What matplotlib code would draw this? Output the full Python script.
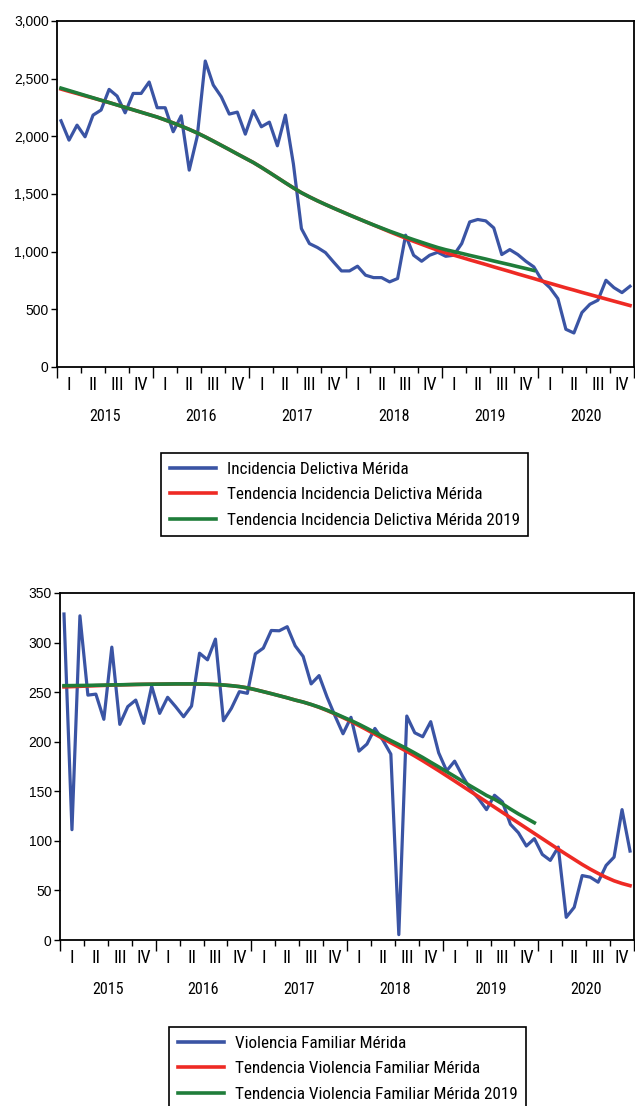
import matplotlib
matplotlib.use("Agg")
import matplotlib.pyplot as plt
from matplotlib import font_manager
from matplotlib.lines import Line2D


def pick_condensed():
    fl = font_manager.fontManager.ttflist
    names = {f.name for f in fl}
    for n in ['Liberation Sans Narrow', 'Arial Narrow', 'Roboto Condensed',
              'Open Sans Condensed', 'Noto Sans Condensed', 'Noto Sans SemiCondensed',
              'DejaVu Sans Condensed']:
        if n in names:
            return n, 'normal'
    for fam in ['Liberation Sans', 'Roboto', 'Noto Sans', 'Open Sans', 'DejaVu Sans']:
        for f in fl:
            if (f.name == fam and str(f.stretch) in ('condensed', 'semi-condensed')
                    and str(f.weight) in ('400', 'normal', 'regular', 'book')
                    and f.style == 'normal'):
                return fam, str(f.stretch)
    return None, None


COND, STRETCH = pick_condensed()
plt.rcParams['font.family'] = ['Liberation Sans', 'DejaVu Sans']
if COND:
    NFAM = [COND, 'Liberation Sans', 'DejaVu Sans']
    QFS, YRFS, LGFS = 13.0, 11.5, 12.3
else:
    NFAM = ['Liberation Sans', 'DejaVu Sans']
    STRETCH = 'normal'
    QFS, YRFS, LGFS = 12.0, 10.5, 11.0
TICK_FS = 10

# ---------------- data (monthly, Jan 2015 - Dec 2020) ----------------
years = ['2015', '2016', '2017', '2018', '2019', '2020']
quarters = ['I', 'II', 'III', 'IV']

incidencia = [2135, 1967, 2097, 1996, 2184, 2228, 2407, 2349, 2204, 2372, 2372, 2471,
              2248, 2248, 2040, 2178, 1707, 2000, 2653, 2445, 2343, 2193, 2210, 2019,
              2222, 2083, 2123, 1918, 2184, 1760, 1200, 1070, 1036, 992, 911, 833,
              833, 874, 796, 775, 775, 738, 767, 1143, 969, 917, 969, 995,
              960, 969, 1070, 1258, 1279, 1267, 1206, 975, 1018, 975, 917, 868,
              752, 688, 593, 327, 295, 472, 544, 579, 752, 688, 645, 700]

tend_incidencia = [2410, 2390, 2371, 2351, 2332, 2312, 2293, 2272, 2251, 2230, 2209, 2188,
                   2167, 2142, 2116, 2089, 2060, 2029, 1995, 1959, 1922, 1885, 1847, 1810,
                   1773, 1731, 1687, 1642, 1597, 1553, 1511, 1475, 1441, 1409, 1378, 1348,
                   1318, 1289, 1260, 1231, 1202, 1173, 1145, 1117, 1090, 1064, 1038, 1013,
                   990, 970, 950, 929, 909, 889, 868, 848, 828, 807, 787, 767,
                   746, 726, 706, 686, 667, 647, 628, 609, 590, 571, 552, 533]

tend_incidencia_2019 = [2418, 2397, 2376, 2355, 2334, 2313, 2293, 2272, 2251, 2230, 2209, 2188,
                        2167, 2142, 2116, 2089, 2060, 2029, 1995, 1959, 1922, 1885, 1847, 1810,
                        1773, 1731, 1687, 1642, 1597, 1553, 1511, 1475, 1441, 1409, 1378, 1348,
                        1318, 1289, 1260, 1232, 1205, 1178, 1153, 1128, 1104, 1081, 1058, 1036,
                        1017, 1001, 985, 968, 952, 936, 919, 903, 887, 870, 854, 837]

violencia = [328.8, 111.3, 327.0, 247.0, 248.0, 222.6, 295.4, 217.5, 235.4, 242.0, 218.5, 256.0,
             228.6, 244.8, 235.4, 225.2, 236.0, 289.3, 282.6, 303.5, 221.2, 233.7, 250.5, 248.8,
             288.6, 294.4, 312.2, 311.9, 316.0, 296.7, 286.0, 258.3, 266.7, 245.0, 226.0, 208.0,
             224.6, 190.5, 197.6, 213.4, 201.6, 187.5, 5.4, 225.9, 209.0, 205.0, 220.2, 188.8,
             170.6, 180.4, 165.2, 151.7, 142.6, 131.5, 146.0, 139.3, 116.7, 108.2, 94.8, 102.2,
             86.3, 80.3, 93.7, 22.9, 33.0, 65.0, 63.4, 58.3, 75.2, 83.6, 131.5, 89.7]

tend_violencia = [255.3, 255.6, 255.9, 256.2, 256.5, 256.8, 257.1, 257.3, 257.5, 257.7, 257.9, 258.0,
                  258.1, 258.2, 258.3, 258.3, 258.3, 258.2, 258.0, 257.7, 257.2, 256.5, 255.6, 254.3,
                  252.5, 250.5, 248.5, 246.4, 244.3, 242.0, 240.0, 237.5, 234.7, 231.5, 228.0, 224.3,
                  220.4, 216.3, 212.0, 207.6, 203.2, 198.9, 194.6, 190.2, 185.6, 180.8, 175.8, 170.8,
                  165.6, 160.4, 155.1, 149.8, 144.6, 139.3, 134.0, 128.7, 123.4, 118.1, 112.8, 107.5,
                  102.2, 96.9, 91.6, 86.4, 81.3, 76.2, 71.5, 67.2, 63.2, 59.7, 57.0, 54.8]

tend_violencia_2019 = [256.5, 256.6, 256.7, 256.8, 257.0, 257.1, 257.3, 257.4, 257.6, 257.8, 257.9, 258.0,
                       258.1, 258.2, 258.3, 258.3, 258.3, 258.2, 258.0, 257.7, 257.2, 256.5, 255.6, 254.3,
                       252.5, 250.5, 248.5, 246.4, 244.3, 242.0, 240.0, 237.6, 234.9, 231.8, 228.5, 224.9,
                       221.4, 217.6, 213.5, 209.3, 205.2, 201.1, 197.1, 193.0, 188.6, 184.1, 179.3, 174.6,
                       169.8, 165.0, 160.1, 155.3, 150.6, 145.8, 142.0, 137.3, 132.1, 127.2, 122.8, 118.3]

labels_top = ['Incidencia Delictiva Mérida',
              'Tendencia Incidencia Delictiva Mérida',
              'Tendencia Incidencia Delictiva Mérida 2019']
labels_bot = ['Violencia Familiar Mérida',
              'Tendencia Violencia Familiar Mérida',
              'Tendencia Violencia Familiar Mérida 2019']

BLUE = '#3a54a4'
RED = '#ee2a24'
GREEN = '#1f7d3a'

W, H = 635, 1106
fig = plt.figure(figsize=(W / 100, H / 100), dpi=100)


def px_axes(left, right, top, bottom):
    return fig.add_axes([left / W, 1 - bottom / H, (right - left) / W, (bottom - top) / H])


def draw_panel(ax, series, trend, trend19, yticks, ylabels, ax_h_px):
    n = len(series)
    ax.plot(range(n), series, color=BLUE, lw=2.3, solid_joinstyle='round', zorder=3)
    ax.plot(range(len(trend)), trend, color=RED, lw=2.6, zorder=4)
    ax.plot(range(len(trend19)), trend19, color=GREEN, lw=2.6, zorder=5)
    ax.set_xlim(-0.5, n - 0.5)
    ax.set_ylim(yticks[0], yticks[-1])
    ax.set_yticks(yticks)
    ax.set_yticklabels(ylabels, fontsize=TICK_FS)
    ax.tick_params(axis='y', direction='out', length=4, width=1.0, pad=2)
    nq = n // 3
    ax.set_xticks([3 * q - 0.5 for q in range(0, nq + 1) if q % 4 == 0])
    ax.set_xticks([3 * q - 0.5 for q in range(0, nq + 1) if q % 4 != 0], minor=True)
    ax.set_xticklabels([])
    ax.tick_params(axis='x', which='major', direction='out', length=8, width=1.0)
    ax.tick_params(axis='x', which='minor', direction='out', length=4, width=1.0)
    for s in ax.spines.values():
        s.set_linewidth(1.3)
        s.set_color('black')
    tr = ax.get_xaxis_transform()
    for q in range(nq):
        ax.text(3 * q + 1, -18 / ax_h_px, quarters[q % 4], transform=tr,
                ha='center', va='center', fontsize=QFS, family=NFAM, stretch=STRETCH)
    for y, name in enumerate(years):
        ax.text(12 * y + 5.5, -50 / ax_h_px, name, transform=tr,
                ha='center', va='center', fontsize=YRFS, family=NFAM, stretch=STRETCH)


def legend(labels, x_px, y_px):
    handles = [Line2D([], [], color=c, lw=2.6) for c in (BLUE, RED, GREEN)]
    leg = fig.legend(handles, labels, loc='upper left',
                     bbox_to_anchor=(x_px / W, 1 - y_px / H), bbox_transform=fig.transFigure,
                     frameon=True, fancybox=False, framealpha=1, edgecolor='black',
                     prop={'family': NFAM, 'size': LGFS, 'stretch': STRETCH},
                     handlelength=2.7, handletextpad=0.65,
                     labelspacing=0.62, borderpad=0.5, borderaxespad=0)
    leg.get_frame().set_linewidth(1.2)


ax1 = px_axes(57, 634, 21, 367)
draw_panel(ax1, incidencia, tend_incidencia, tend_incidencia_2019,
           [0, 500, 1000, 1500, 2000, 2500, 3000],
           ['0', '500', '1,000', '1,500', '2,000', '2,500', '3,000'], 346)
legend(labels_top, 161, 453)

ax2 = px_axes(60, 634, 593, 940)
draw_panel(ax2, violencia, tend_violencia, tend_violencia_2019,
           [0, 50, 100, 150, 200, 250, 300, 350],
           ['0', '50', '100', '150', '200', '250', '300', '350'], 347)
legend(labels_bot, 169, 1027)

fig.savefig('out.png', dpi=100)
